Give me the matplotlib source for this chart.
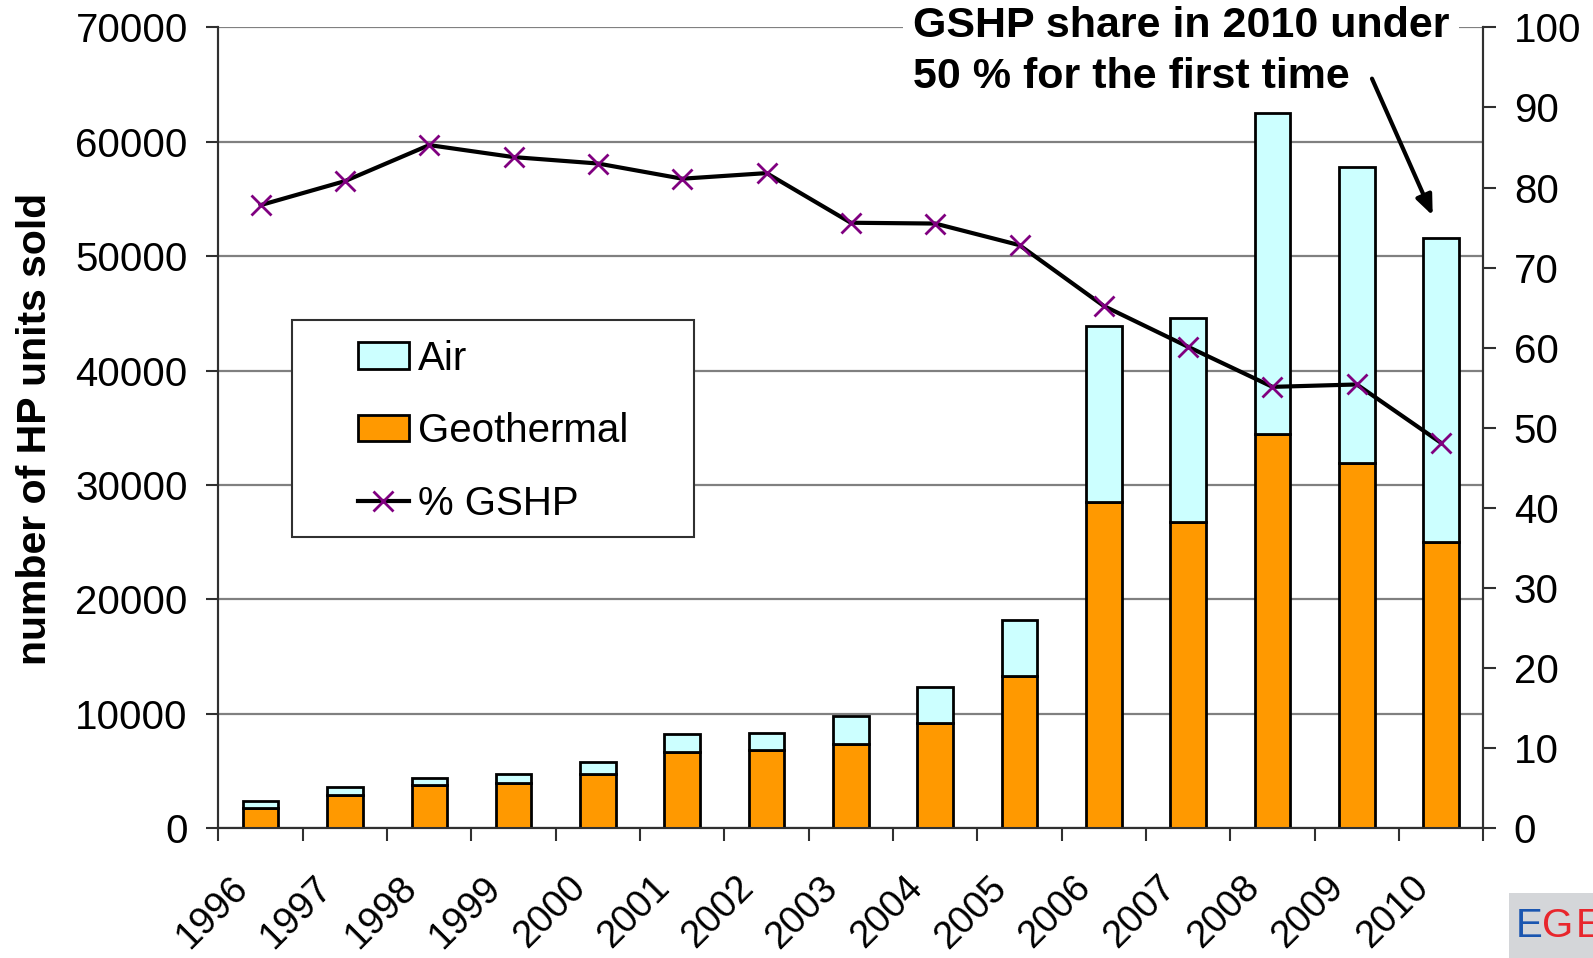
import matplotlib
matplotlib.use("Agg")
import matplotlib.pyplot as plt
import numpy as np
from matplotlib.patches import Rectangle
from matplotlib.transforms import ScaledTranslation

plt.rcParams['font.family'] = ['Liberation Sans', 'DejaVu Sans']

years = ['1996', '1997', '1998', '1999', '2000', '2001', '2002', '2003',
         '2004', '2005', '2006', '2007', '2008', '2009', '2010']
geothermal = [1790, 2870, 3720, 3950, 4740, 6670, 6790, 7370, 9210, 13300,
              28530, 26780, 34440, 31880, 24970]
total = [2340, 3570, 4390, 4740, 5760, 8250, 8330, 9770, 12300, 18200,
         43850, 44620, 62500, 57800, 51550]
air = [t - g for t, g in zip(total, geothermal)]
pct_gshp = [77.8, 80.8, 85.3, 83.8, 83.0, 81.1, 81.8, 75.6, 75.5, 72.8,
            65.2, 60.1, 55.1, 55.4, 48.1]

W, H = 1593, 958
L, R, T, B = 218.4, 1483.3, 27.4, 828.0
fig = plt.figure(figsize=(W / 100, H / 100), dpi=100)
ax = fig.add_axes([L / W, 1 - B / H, (R - L) / W, (B - T) / H])
ax2 = ax.twinx()

def ax_x(px):
    return (px - L) / (R - L)

def ax_y(py):
    return (B - py) / (B - T)

x = np.arange(len(years))
bw = 0.42
ax.bar(x, geothermal, bw, color='#FF9900', edgecolor='black', linewidth=2,
       label='Geothermal', zorder=3)
ax.bar(x, air, bw, bottom=geothermal, color='#CCFFFF', edgecolor='black',
       linewidth=2, label='Air', zorder=3)

ax.set_xlim(-0.5, len(years) - 0.5)
ax.set_ylim(0, 70000)
ax.set_yticks(np.arange(0, 70001, 10000))
ax.yaxis.grid(True, color='#808080', linewidth=1.6, zorder=0)
ax.set_axisbelow(True)

line, = ax2.plot(x, pct_gshp, color='black', linewidth=3, marker='x',
                 markersize=14, markeredgecolor='#800080', markeredgewidth=2,
                 label='% GSHP', zorder=5)
ax2.set_ylim(0, 100)
ax2.set_yticks(np.arange(0, 101, 10))
ax2.set_zorder(ax.get_zorder() + 1)
ax2.patch.set_visible(False)

for a in (ax, ax2):
    a.spines['top'].set_visible(False)
    for s in ['left', 'right', 'bottom']:
        a.spines[s].set_color('#303030')
        a.spines[s].set_linewidth(1.5)

ax.set_xticks(x)
ax.set_xticklabels(years, rotation=45, ha='right', va='top', rotation_mode='anchor')
ax.tick_params(axis='x', which='major', length=0, pad=30, labelsize=27.5)
offset = ScaledTranslation(-31 / 100, 0, fig.dpi_scale_trans)
for lab in ax.get_xticklabels():
    lab.set_transform(lab.get_transform() + offset)
ax.set_xticks(np.arange(-0.5, len(years), 1), minor=True)
ax.tick_params(axis='x', which='minor', length=9, width=1.5, color='#303030', direction='out')
ax.tick_params(axis='y', length=9, width=1.5, color='#303030', pad=13, labelsize=29)
ax2.tick_params(axis='y', length=9, width=1.5, color='#303030', pad=13, labelsize=29)

fig.text(35 / W, 1 - 429 / H, 'number of HP units sold', rotation=90,
         fontsize=29.5, fontweight='bold', ha='center', va='center')

# legend frame and entries
ax2.add_patch(Rectangle((ax_x(291.7), ax_y(537.3)), ax_x(694.3) - ax_x(291.7),
                        ax_y(320) - ax_y(537.3), transform=ax2.transAxes,
                        facecolor='white', edgecolor='#303030', linewidth=1.5,
                        zorder=8))
handles = [ax.containers[1], ax.containers[0], line]
labels = ['Air', 'Geothermal', '% GSHP']
leg = ax2.legend(handles, labels, loc='upper left',
                 bbox_to_anchor=(ax_x(357.7), ax_y(339.5)),
                 fontsize=29, frameon=False,
                 handlelength=1.27, handleheight=0.645, handletextpad=0.22,
                 labelspacing=0.86, borderpad=0, borderaxespad=0)
leg.set_zorder(10)

ax2.text(913 / W, 1 - 6 / H, 'GSHP share in 2010 under\n50 % for the first time',
         transform=fig.transFigure, fontsize=31, fontweight='bold', ha='left',
         va='top', linespacing=1.37,
         bbox=dict(facecolor='white', edgecolor='none', pad=7), zorder=15)

ax2.annotate('', xy=(13.9, 76.5), xytext=(13.18, 93.6),
             arrowprops=dict(arrowstyle='-|>,head_length=1.2,head_width=0.5',
                             color='black', lw=3, shrinkA=0, shrinkB=0), zorder=20)

fig.patches.append(Rectangle((1509 / W, 0), (W - 1509) / W, (958 - 893) / H,
                             transform=fig.transFigure, facecolor='#d4d6d9',
                             edgecolor='none'))
fig.text(1516 / W, 1 - 937 / H, 'E', color='#1a56b0', fontsize=29, ha='left', va='baseline')
fig.text(1542 / W, 1 - 937 / H, 'G', color='#e8262c', fontsize=29, ha='left', va='baseline')
fig.text(1576 / W, 1 - 937 / H, 'E', color='#e8262c', fontsize=29, ha='left', va='baseline')

fig.savefig('out.png', dpi=100)
